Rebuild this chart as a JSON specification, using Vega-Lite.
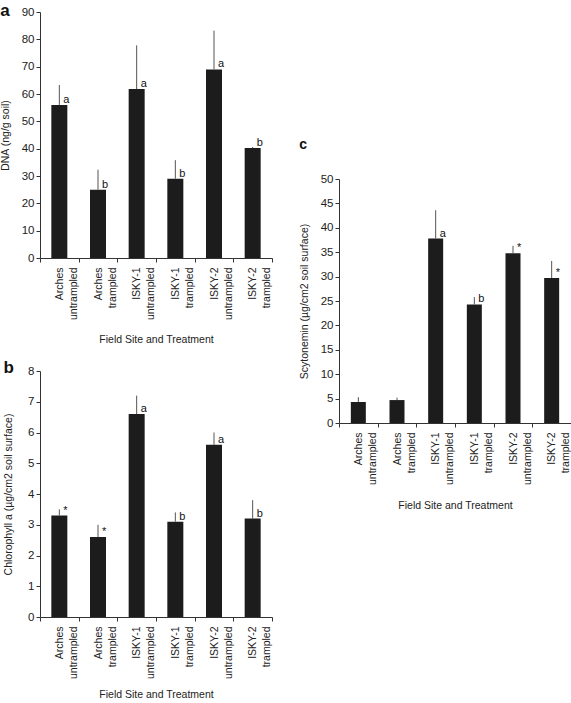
{
  "$schema": "https://vega.github.io/schema/vega-lite/v6.json",
  "padding": {"left": 0, "top": 2, "right": 0, "bottom": 0},
  "spacing": 26,
  "hconcat": [
    {
      "spacing": 13,
      "vconcat": [
        {
          "width": 232, "height": 246,
          "title": {"text": "a", "offset": -14},
          "data": {"values": [
            {"group": "Arches untrampled", "mean": 56, "upper": 63.3, "sig": "a"},
            {"group": "Arches trampled", "mean": 25, "upper": 32.3, "sig": "b"},
            {"group": "ISKY-1 untrampled", "mean": 61.8, "upper": 77.8, "sig": "a"},
            {"group": "ISKY-1 trampled", "mean": 29, "upper": 35.8, "sig": "b"},
            {"group": "ISKY-2 untrampled", "mean": 69, "upper": 83.2, "sig": "a"},
            {"group": "ISKY-2 trampled", "mean": 40.2, "upper": 40.6, "sig": "b"}
          ]},
          "encoding": {
            "x": {"field": "group", "type": "nominal", "sort": null, "scale": {"paddingInner": 0, "paddingOuter": 0},
              "axis": {"title": "Field Site and Treatment", "labelAngle": -90, "labelExpr": "split(datum.label, ' ')", "labelLineHeight": 14, "labelFontSize": 10.5, "labelPadding": 5, "tickBand": "extent", "titlePadding": 15}},
            "y": {"field": "mean", "type": "quantitative", "scale": {"domain": [0, 90], "nice": false},
              "axis": {"title": "DNA (ng/g soil)", "values": [0,10,20,30,40,50,60,70,80,90], "labelOverlap": false, "titlePadding": 11}}
          },
          "layer": [
            {"mark": {"type": "bar", "width": 16, "color": "#1c1c1c"}},
            {"mark": {"type": "rule", "color": "#555", "strokeWidth": 1},
             "encoding": {"y2": {"field": "upper"}}},
            {"mark": {"type": "text", "align": "left", "baseline": "alphabetic", "dx": 4, "dy": -2, "fontSize": 11, "color": "#111"},
             "encoding": {"text": {"field": "sig"}}}
          ]
        },
        {
          "width": 232, "height": 246,
          "title": {"text": "b", "offset": -12},
          "data": {"values": [
            {"group": "Arches untrampled", "mean": 3.3, "upper": 3.5, "sig": "*"},
            {"group": "Arches trampled", "mean": 2.6, "upper": 3.0, "sig": "*"},
            {"group": "ISKY-1 untrampled", "mean": 6.6, "upper": 7.2, "sig": "a"},
            {"group": "ISKY-1 trampled", "mean": 3.1, "upper": 3.4, "sig": "b"},
            {"group": "ISKY-2 untrampled", "mean": 5.6, "upper": 6.0, "sig": "a"},
            {"group": "ISKY-2 trampled", "mean": 3.2, "upper": 3.8, "sig": "b"}
          ]},
          "encoding": {
            "x": {"field": "group", "type": "nominal", "sort": null, "scale": {"paddingInner": 0, "paddingOuter": 0},
              "axis": {"title": "Field Site and Treatment", "labelAngle": -90, "labelExpr": "split(datum.label, ' ')", "labelLineHeight": 14, "labelFontSize": 10.5, "labelPadding": 5, "tickBand": "extent", "titlePadding": 11}},
            "y": {"field": "mean", "type": "quantitative", "scale": {"domain": [0, 8], "nice": false},
              "axis": {"title": "Chlorophyll a (µg/cm2 soil surface)", "values": [0,1,2,3,4,5,6,7,8], "labelOverlap": false, "titlePadding": 14}}
          },
          "layer": [
            {"mark": {"type": "bar", "width": 16, "color": "#1c1c1c"}},
            {"mark": {"type": "rule", "color": "#555", "strokeWidth": 1},
             "encoding": {"y2": {"field": "upper"}}},
            {"mark": {"type": "text", "align": "left", "baseline": "alphabetic", "dx": 4, "dy": -2, "fontSize": 11, "color": "#111"},
             "encoding": {"text": {"field": "sig"}}}
          ]
        }
      ]
    },
    {
      "spacing": 0,
      "vconcat": [
        {
          "width": 232, "height": 126,
          "data": {"values": []},
          "mark": {"type": "point", "opacity": 0},
          "encoding": {}
        },
        {
          "width": 232, "height": 244,
          "title": {"text": "c", "offset": 21, "fontSize": 14},
          "data": {"values": [
            {"group": "Arches untrampled", "mean": 4.3, "upper": 5.3, "sig": ""},
            {"group": "Arches trampled", "mean": 4.7, "upper": 5.2, "sig": ""},
            {"group": "ISKY-1 untrampled", "mean": 37.8, "upper": 43.6, "sig": "a"},
            {"group": "ISKY-1 trampled", "mean": 24.3, "upper": 25.8, "sig": "b"},
            {"group": "ISKY-2 untrampled", "mean": 34.8, "upper": 36.3, "sig": "*"},
            {"group": "ISKY-2 trampled", "mean": 29.7, "upper": 33.2, "sig": "*"}
          ]},
          "encoding": {
            "x": {"field": "group", "type": "nominal", "sort": null, "scale": {"paddingInner": 0, "paddingOuter": 0},
              "axis": {"title": "Field Site and Treatment", "labelAngle": -90, "labelExpr": "split(datum.label, ' ')", "labelLineHeight": 14, "labelFontSize": 10.5, "labelPadding": 5, "tickBand": "extent", "titlePadding": 16}},
            "y": {"field": "mean", "type": "quantitative", "scale": {"domain": [0, 50], "nice": false},
              "axis": {"title": "Scytonemin (µg/cm2 soil surface)", "values": [0,5,10,15,20,25,30,35,40,45,50], "labelOverlap": false, "titlePadding": 11}}
          },
          "layer": [
            {"mark": {"type": "bar", "width": 15, "color": "#1c1c1c"}},
            {"mark": {"type": "rule", "color": "#555", "strokeWidth": 1},
             "encoding": {"y2": {"field": "upper"}}},
            {"mark": {"type": "text", "align": "left", "baseline": "alphabetic", "dx": 4, "dy": -2, "fontSize": 11, "color": "#111"},
             "encoding": {"text": {"field": "sig"}}}
          ]
        }
      ]
    }
  ],
  "config": {
    "font": "Liberation Sans",
    "view": {"stroke": null},
    "axis": {"labelFont": "Liberation Sans", "labelFontSize": 11.5, "labelColor": "#222", "labelOverlap": false, "titleFont": "Liberation Sans", "titleFontSize": 10.5, "titleFontWeight": "normal", "titleColor": "#222", "domainColor": "#333", "tickColor": "#333", "tickSize": 4, "grid": false},
    "title": {"anchor": "start", "frame": "bounds", "fontSize": 17, "fontWeight": "bold", "font": "Liberation Sans", "color": "#111", "baseline": "alphabetic"}
  }
}
